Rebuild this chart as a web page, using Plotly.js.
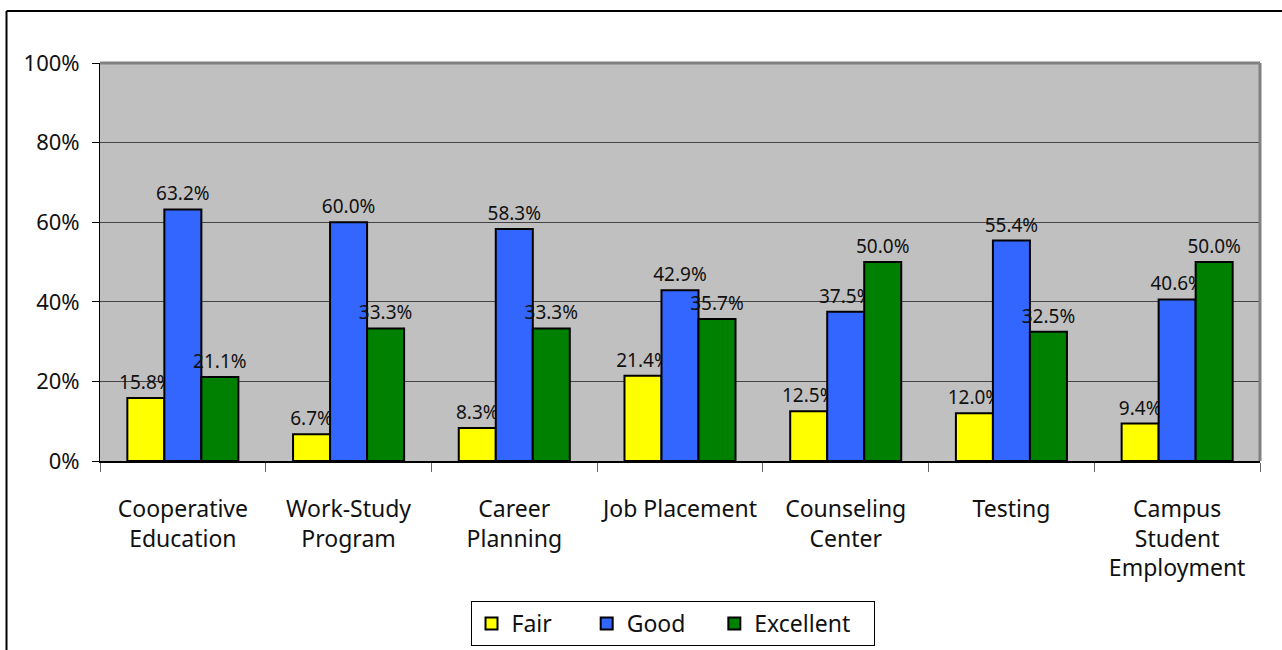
<!DOCTYPE html>
<html>
<head>
<meta charset="utf-8">
<script src="https://cdn.plot.ly/plotly-3.0.1.min.js"></script>
<style>
html,body{margin:0;padding:0;background:#fff;}
#chart{width:1282px;height:650px;}
</style>
</head>
<body>
<div id="chart"></div>
<script>
const categories = ["Cooperative<br>Education", "Work-Study<br>Program", "Career<br>Planning", "Job Placement", "Counseling<br>Center", "Testing", "Campus<br>Student<br>Employment"];
const seriesNames = ["Fair", "Good", "Excellent"];
const fair = [15.8, 6.7, 8.3, 21.4, 12.5, 12.0, 9.4];
const good = [63.2, 60.0, 58.3, 42.9, 37.5, 55.4, 40.6];
const excellent = [21.1, 33.3, 33.3, 35.7, 50.0, 32.5, 50.0];
const yTicks = [0, 20, 40, 60, 80, 100];

const FONT = "'Noto Sans', 'Open Sans', sans-serif";
const NB = '\u00a0';

function series(name, pad, vals, color) {
  return {
    type: 'bar', name: name + NB.repeat(pad), x: categories, y: vals,
    marker: {color: color, line: {color: '#000', width: 2}},
    text: vals.map(v => v.toFixed(1) + '%'),
    textposition: 'outside',
    textfont: {family: FONT, size: 19, color: '#111'},
    constraintext: 'none',
    cliponaxis: false,
    hovertemplate: name + ': %{y:.1f}%<extra></extra>'
  };
}

const data = [
  series(seriesNames[0], 5, fair, '#ffff00'),
  series(seriesNames[1], 4, good, '#3366ff'),
  series(seriesNames[2], 3, excellent, '#008000')
];

const L = 100, R = 1260, T = 63, B = 461, W = 1282, H = 650;
const px = x => (x - L) / (R - L);
const py = y => (B - y) / (B - T);

const layout = {
  width: W, height: H,
  margin: {l: L, r: W - R, t: T, b: H - B, pad: 0, autoexpand: false},
  paper_bgcolor: '#ffffff',
  plot_bgcolor: '#c0c0c0',
  barmode: 'group',
  bargap: 0.33,
  bargroupgap: 0,
  showlegend: true,
  font: {family: FONT, color: '#111'},
  xaxis: {
    type: 'category',
    tickson: 'boundaries',
    ticks: 'outside', ticklen: 9, tickcolor: '#666', tickwidth: 1,
    showline: true, linecolor: '#000', linewidth: 2,
    showgrid: false,
    tickfont: {family: FONT, size: 23, color: '#111'},
    ticklabelstandoff: 26,
    automargin: false
  },
  yaxis: {
    range: [0, 100],
    tickvals: yTicks,
    ticktext: yTicks.map(v => v + '%'),
    ticks: 'outside', ticklen: 7, tickcolor: '#000',
    showline: true, linecolor: '#000', linewidth: 1,
    showgrid: true, gridcolor: '#444', gridwidth: 1,
    zeroline: false,
    tickfont: {family: FONT, size: 22, color: '#111'},
    ticklabelstandoff: 8,
    automargin: false
  },
  legend: {
    orientation: 'h',
    xref: 'container', yref: 'container',
    x: 672.5 / W, xanchor: 'center',
    y: (H - 601) / H, yanchor: 'top',
    bordercolor: '#000', borderwidth: 1,
    bgcolor: '#fff',
    font: {family: FONT, size: 23, color: '#111'},
    traceorder: 'normal',
    itemwidth: 30
  },
  shapes: [
    {type: 'line', xref: 'paper', yref: 'paper', x0: 0, x1: 1, y0: 1, y1: 1, line: {color: '#808080', width: 3}, layer: 'above'},
    {type: 'line', xref: 'paper', yref: 'paper', x0: 1, x1: 1, y0: 0, y1: 1, line: {color: '#808080', width: 3}, layer: 'above'},
    {type: 'line', xref: 'paper', yref: 'paper', x0: px(6.5), x1: px(1290), y0: py(11), y1: py(11), line: {color: '#000', width: 2}, layer: 'above'},
    {type: 'line', xref: 'paper', yref: 'paper', x0: px(6.5), x1: px(6.5), y0: py(11), y1: py(660), line: {color: '#000', width: 2}, layer: 'above'}
  ]
};

Plotly.newPlot('chart', data, layout, {displayModeBar: false, staticPlot: true});
</script>
</body>
</html>
